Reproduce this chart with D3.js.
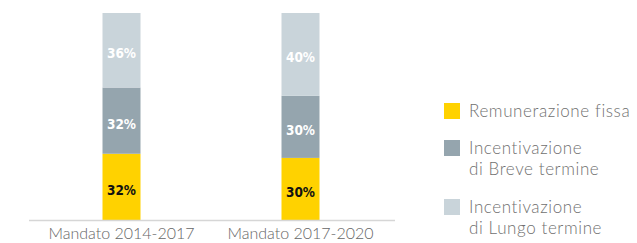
<!DOCTYPE html>
<html><head><meta charset="utf-8">
<script src="https://cdn.jsdelivr.net/npm/d3@7"></script>
<style>
body{margin:0;background:#fff;}
svg{display:block;}
</style></head>
<body>
<svg id="chart" width="637" height="243"></svg>
<script>
const categories = ["Mandato 2014-2017", "Mandato 2017-2020"];
const seriesNames = ["Remunerazione fissa", "Incentivazione di Breve termine", "Incentivazione di Lungo termine"];
const legendLines = [["Remunerazione fissa"], ["Incentivazione", "di Breve termine"], ["Incentivazione", "di Lungo termine"]];
const fissa = [32, 30];
const breve = [32, 30];
const lungo = [36, 40];
const colors = ["#FFD200", "#95A5AE", "#C9D4DA"];
const labelColors = ["#111", "#fff", "#fff"];

const svg = d3.select("#chart");
const x = d3.scaleBand().domain(categories).range([32, 390]).paddingInner(0.5).paddingOuter(0.25);
const y = d3.scaleLinear().domain([0, 100]).range([220, 13]);

const rows = categories.map((c, i) => ({cat: c, fissa: fissa[i], breve: breve[i], lungo: lungo[i]}));
const keys = ["fissa", "breve", "lungo"];
const stacked = d3.stack().keys(keys)(rows);

const barW = 38;
const g = svg.append("g");
stacked.forEach((layer, li) => {
  layer.forEach(d => {
    const cx = x(d.data.cat) + x.bandwidth() / 2;
    g.append("rect")
      .attr("x", cx - barW / 2)
      .attr("y", y(d[1]))
      .attr("width", barW)
      .attr("height", y(d[0]) - y(d[1]))
      .attr("fill", colors[li]);
    g.append("text")
      .attr("x", cx)
      .attr("y", (y(d[0]) + y(d[1])) / 2 + 3)
      .attr("dy", "0.36em")
      .attr("text-anchor", "middle")
      .attr("font-family", "DejaVu Sans Condensed, DejaVu Sans")
      .attr("font-stretch", "condensed")
      .attr("font-weight", "bold")
      .attr("font-size", 13.5)
      .attr("fill", labelColors[li])
      .text((d[1] - d[0]) + "%");
  });
});

// axis
const axis = d3.axisBottom(x).tickSize(0).tickPadding(8);
const ag = svg.append("g").attr("transform", "translate(0,220)").call(axis);
ag.select(".domain").attr("d", "M29,0.5H395").attr("stroke", "#d6d6d6").attr("stroke-width", 1.5);
ag.selectAll("text")
  .attr("font-family", "Lato")
  .attr("font-weight", 300)
  .attr("font-size", 16)
  .attr("fill", "#666");

// legend
const legendY = [103, 140, 199];
const lg = svg.append("g");
seriesNames.forEach((s, i) => {
  lg.append("rect").attr("x", 444).attr("y", legendY[i]).attr("width", 16).attr("height", 16).attr("fill", colors[i]);
  const t = lg.append("text")
    .attr("x", 469).attr("y", legendY[i] + 14)
    .attr("font-family", "Lato").attr("font-weight", 300)
    .attr("font-size", 17).attr("letter-spacing", 0.6).attr("fill", "#707070");
  legendLines[i].forEach((line, j) => {
    t.append("tspan").attr("x", 469).attr("dy", j === 0 ? 0 : 21).text(line);
  });
});
</script>
</body></html>
